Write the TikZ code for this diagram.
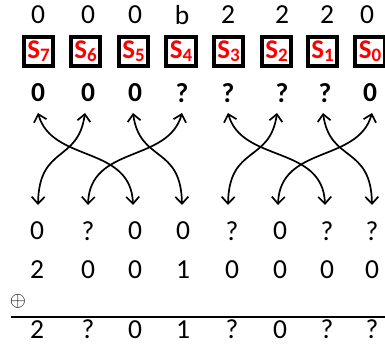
\documentclass[tikz,border=0pt]{standalone}
\usepackage{fontspec}
\setmainfont{Carlito}
\usetikzlibrary{arrows.meta}
\begin{document}
\begin{tikzpicture}[x=1pt,y=-1pt,
  val/.style={font=\fontsize{27.5}{29}\selectfont, inner sep=0pt, anchor=center},
  bval/.style={font=\fontsize{27.5}{29}\selectfont\bfseries, inner sep=0pt, anchor=center},
  sbox/.style={draw=black, line width=3.8pt, minimum width=29.5pt, minimum height=29.5pt,
    inner sep=0pt, text=red, font=\fontsize{27}{28}\selectfont\bfseries},
  swap/.style={line width=1.7pt, {Straight Barb[length=7pt,width=13pt]}-{Straight Barb[length=7pt,width=13pt]}}
]
\useasboundingbox (0,0) rectangle (385,345);

% input values above the S-boxes
\foreach \x/\v [count=\i from 0] in {38/0,88/0,135/0,182/b,228/2,282/2,327/2,367/0}
  \node[val] (in\i) at (\x,15) {\v};

% S-boxes S7 ... S0
\foreach \x/\s [count=\i from 0] in {38.5/7,85.5/6,133.5/5,181/4,228.5/3,276.5/2,322.5/1,370/0}
  \node[sbox] (s\i) at (\x,51.5) {S\raisebox{-3pt}{\fontsize{19}{19}\selectfont\s}};

% S-box outputs
\foreach \x/\v [count=\i from 0] in {38/0,88/0,135/0,182/?,228/?,282/?,325/?,370/0}
  \node[bval] (out\i) at (\x,93) {\v};

% end points of the permutation wires
\foreach \x [count=\i from 0] in {38,85,133,182,228,277,323,372}
  \coordinate (up\i) at (\x,113);
\foreach \x [count=\i from 0] in {38,88,133,182,228,278,325,372}
  \coordinate (dn\i) at (\x,205);

% permutation wires: each is an S-curve between two columns
\foreach \a/\b/\p/\q in {0/2/14/-2, 2/3/7/-1, 4/6/14/-2, 6/7/7/-1,
                         1/0/-7/1, 3/1/-14/2, 5/4/-7/1, 7/5/-14/2}
  \draw[swap] (up\a) .. controls +(\p,50) and +(\q,-60) .. (dn\b);

% permuted values
\foreach \x/\v [count=\i from 0] in {37/0,88/?,135/0,183/0,232/?,280/0,327/?,372/?}
  \node[val] (p\i) at (\x,231) {\v};

% round constant
\foreach \x/\v [count=\i from 0] in {37/2,88/0,135/0,183/1,232/0,280/0,327/0,372/0}
  \node[val] (k\i) at (\x,270) {\v};

\node[inner sep=0pt] (xor) at (18,301) {\fontsize{20}{20}\selectfont$\oplus$};
\coordinate (ruleL) at (11,317);
\coordinate (ruleR) at (385,317);
\draw[line width=1.6pt] (ruleL) -- (ruleR);

% result
\foreach \x/\v [count=\i from 0] in {37/2,88/?,135/0,183/1,232/?,280/0,327/?,372/?}
  \node[val] (r\i) at (\x,329.5) {\v};
\end{tikzpicture}
\end{document}
